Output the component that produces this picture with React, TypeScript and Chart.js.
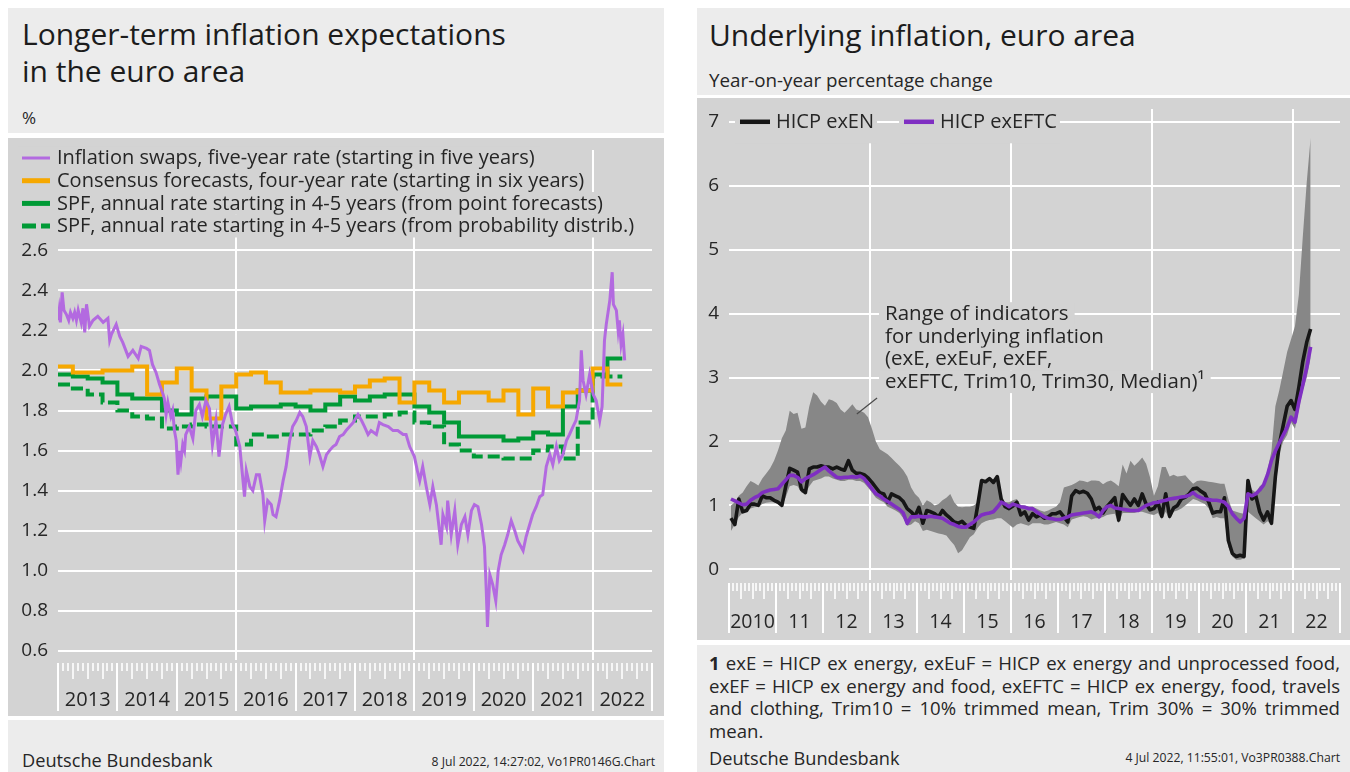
import React, { useEffect, useRef } from 'react';
import { Chart, registerables } from 'chart.js';

Chart.register(...registerables);

const FONT = '"Open Sans", "Noto Sans", sans-serif';
const PANEL_BG = '#d3d3d3';
const HEAD_BG = '#ececec';
const TEXT = '#262626';

// ================= Left chart data =================
const swapYears = [
  2013.00, 2013.02, 2013.04, 2013.07, 2013.10, 2013.14, 2013.18, 2013.21, 2013.25, 2013.28,
  2013.31, 2013.34, 2013.39, 2013.42, 2013.45, 2013.48, 2013.53, 2013.59, 2013.67, 2013.76,
  2013.84, 2013.87, 2013.90, 2013.98, 2014.04, 2014.09, 2014.18, 2014.26, 2014.35, 2014.40,
  2014.49, 2014.54, 2014.59, 2014.65, 2014.71, 2014.77, 2014.79, 2014.82, 2014.85, 2014.90,
  2014.93, 2014.96, 2014.99, 2015.02, 2015.05, 2015.07, 2015.10, 2015.13, 2015.15, 2015.21,
  2015.27, 2015.32, 2015.38, 2015.43, 2015.49, 2015.55, 2015.60, 2015.66, 2015.71, 2015.77,
  2015.82, 2015.88, 2015.94, 2015.99, 2016.06, 2016.14, 2016.17, 2016.23, 2016.28, 2016.34,
  2016.39, 2016.45, 2016.48, 2016.53, 2016.59, 2016.62, 2016.67, 2016.73, 2016.79, 2016.84,
  2016.90, 2016.95, 2017.01, 2017.07, 2017.12, 2017.18, 2017.24, 2017.29, 2017.35, 2017.40,
  2017.46, 2017.52, 2017.57, 2017.63, 2017.68, 2017.74, 2017.80, 2017.85, 2017.91, 2017.97,
  2018.05, 2018.11, 2018.16, 2018.22, 2018.27, 2018.36, 2018.41, 2018.47, 2018.56, 2018.64,
  2018.72, 2018.81, 2018.86, 2018.92, 2019.00, 2019.05, 2019.09, 2019.14, 2019.20, 2019.26,
  2019.31, 2019.37, 2019.45, 2019.48, 2019.54, 2019.56, 2019.62, 2019.68, 2019.73, 2019.79,
  2019.85, 2019.90, 2019.96, 2020.01, 2020.07, 2020.13, 2020.18, 2020.21, 2020.23, 2020.27,
  2020.32, 2020.37, 2020.41, 2020.46, 2020.52, 2020.57, 2020.63, 2020.69, 2020.74, 2020.83,
  2020.88, 2020.94, 2020.99, 2021.05, 2021.11, 2021.16, 2021.19, 2021.22, 2021.28, 2021.33,
  2021.39, 2021.44, 2021.50, 2021.56, 2021.61, 2021.67, 2021.72, 2021.78, 2021.81, 2021.84,
  2021.89, 2021.95, 2022.01, 2022.06, 2022.12, 2022.16, 2022.20, 2022.23, 2022.29, 2022.33,
  2022.35, 2022.40, 2022.43, 2022.45, 2022.48, 2022.51, 2022.54,
];
const swapValues = [
  2.25, 2.30, 2.24, 2.39, 2.30, 2.28, 2.25, 2.29, 2.26, 2.29,
  2.25, 2.30, 2.24, 2.31, 2.19, 2.33, 2.22, 2.25, 2.27, 2.24,
  2.26, 2.15, 2.18, 2.23, 2.17, 2.14, 2.07, 2.10, 2.06, 2.12,
  2.11, 2.10, 2.03, 1.99, 1.93, 1.88, 1.86, 1.78, 1.84, 1.77,
  1.80, 1.70, 1.65, 1.48, 1.60, 1.55, 1.63, 1.60, 1.68, 1.72,
  1.66, 1.80, 1.83, 1.77, 1.85, 1.81, 1.63, 1.75, 1.57, 1.73,
  1.78, 1.82, 1.73, 1.70, 1.62, 1.37, 1.50, 1.42, 1.40, 1.48,
  1.48, 1.38, 1.25, 1.35, 1.33, 1.28, 1.27, 1.35, 1.45, 1.52,
  1.65, 1.72, 1.75, 1.79, 1.77, 1.72, 1.57, 1.65, 1.62, 1.58,
  1.52, 1.58, 1.60, 1.62, 1.63, 1.67, 1.68, 1.70, 1.72, 1.74,
  1.78, 1.75, 1.72, 1.68, 1.70, 1.68, 1.74, 1.73, 1.72, 1.70,
  1.70, 1.68, 1.68, 1.62, 1.57, 1.50, 1.45, 1.52, 1.42, 1.33,
  1.42, 1.33, 1.13, 1.28, 1.22, 1.35, 1.18, 1.30, 1.13, 1.23,
  1.27, 1.18, 1.30, 1.33, 1.32, 1.23, 1.12, 0.90, 0.72, 0.98,
  0.93, 0.85, 1.00, 1.08, 1.13, 1.18, 1.25, 1.20, 1.15, 1.10,
  1.17, 1.23, 1.28, 1.32, 1.37, 1.38, 1.45, 1.52, 1.58, 1.53,
  1.62, 1.55, 1.58, 1.65, 1.68, 1.72, 1.75, 1.85, 2.10, 1.95,
  1.88, 1.98, 1.88, 1.85, 1.75, 1.82, 2.15, 2.23, 2.35, 2.49,
  2.33, 2.30, 2.20, 2.25, 2.13, 2.18, 2.05,
];
// Quarterly values, 2013Q1 ... 2022Q2
const quarterStartYear = 2013;
const consensusQuarterly = [
  2.02, 1.99, 1.99, 2.00, 2.00, 2.02, 1.88, 1.94,
  2.01, 1.90, 1.76, 1.92, 1.98, 1.99, 1.94, 1.89,
  1.89, 1.90, 1.90, 1.89, 1.92, 1.95, 1.96, 1.84,
  1.94, 1.90, 1.84, 1.89, 1.89, 1.85, 1.90, 1.78,
  1.91, 1.82, 1.89, 1.90, 2.01, 1.93,
];
const spfPointQuarterly = [
  1.98, 1.97, 1.96, 1.94, 1.88, 1.86, 1.86, 1.80,
  1.78, 1.86, 1.87, 1.87, 1.81, 1.82, 1.82, 1.83,
  1.82, 1.80, 1.83, 1.87, 1.85, 1.87, 1.88, 1.88,
  1.82, 1.79, 1.74, 1.67, 1.67, 1.67, 1.65, 1.66,
  1.69, 1.68, 1.82, 1.90, 1.98, 2.06,
];
const spfProbQuarterly = [
  1.93, 1.91, 1.88, 1.84, 1.80, 1.77, 1.76, 1.71,
  1.72, 1.73, 1.72, 1.72, 1.63, 1.68, 1.67, 1.68,
  1.68, 1.70, 1.72, 1.75, 1.77, 1.77, 1.78, 1.79,
  1.74, 1.72, 1.63, 1.60, 1.57, 1.57, 1.56, 1.56,
  1.60, 1.62, 1.56, 1.74, 1.97, 1.97,
];
const leftYTicks = [0.6, 0.8, 1.0, 1.2, 1.4, 1.6, 1.8, 2.0, 2.2, 2.4, 2.6];
const leftFirstYear = 2013;
const leftYearLabels = ['2013', '2014', '2015', '2016', '2017', '2018', '2019', '2020', '2021', '2022'];
const leftGridYears = [2016, 2019, 2022];
const leftLegendLabels = [
  'Inflation swaps, five-year rate (starting in five years)',
  'Consensus forecasts, four-year rate (starting in six years)',
  'SPF, annual rate starting in 4-5 years (from point forecasts)',
  'SPF, annual rate starting in 4-5 years (from probability distrib.)',
];

// ================= Right chart data (monthly, Jan 2010 ... May 2022) =================
const rightFirstYear = 2010;
const exENMonthly = [
  0.80, 0.70, 1.10, 0.90, 0.92, 1.02, 1.02, 1.00, 1.15, 1.12, 1.12, 1.08,
  1.05, 1.00, 1.30, 1.58, 1.55, 1.52, 1.25, 1.20, 1.57, 1.60, 1.60, 1.62,
  1.60, 1.60, 1.57, 1.60, 1.57, 1.55, 1.70, 1.55, 1.50, 1.50, 1.48, 1.43,
  1.36, 1.28, 1.20, 1.18, 1.05, 1.18, 1.15, 1.12, 1.06, 0.95, 0.90, 0.83,
  0.97, 0.72, 0.92, 0.90, 0.87, 0.82, 0.92, 0.85, 0.80, 0.74, 0.72, 0.75,
  0.69, 0.66, 0.64, 1.00, 1.39, 1.37, 1.42, 1.36, 1.45, 1.10, 0.98, 0.95,
  0.99, 1.05, 0.85, 0.90, 0.77, 0.87, 0.82, 0.85, 0.80, 0.82, 0.87, 0.87,
  0.90, 0.82, 0.74, 1.15, 1.23, 1.20, 1.22, 1.19, 1.10, 0.93, 0.97, 0.88,
  0.98, 1.05, 1.12, 0.77, 1.17, 1.08, 1.00, 1.10, 1.00, 1.18, 1.02, 0.93,
  0.95, 1.05, 0.83, 1.18, 0.83, 0.96, 1.00, 1.10, 1.13, 1.18, 1.26, 1.27,
  1.22, 1.18, 1.05, 0.88, 0.90, 0.90, 1.12, 0.45, 0.25, 0.20, 0.22, 0.20,
  1.39, 1.10, 1.15, 0.90, 0.77, 0.90, 0.72, 1.45, 1.95, 2.25, 2.55, 2.64,
  2.50, 2.85, 3.25, 3.55, 3.76,
];
const exEFTCMonthly = [
  1.10, 1.07, 1.04, 1.01, 1.02, 1.08, 1.12, 1.15, 1.20, 1.22, 1.24, 1.25,
  1.26, 1.33, 1.40, 1.47, 1.47, 1.44, 1.37, 1.42, 1.45, 1.48, 1.52, 1.56,
  1.60, 1.54, 1.49, 1.44, 1.43, 1.44, 1.44, 1.45, 1.44, 1.46, 1.42, 1.34,
  1.26, 1.18, 1.15, 1.10, 1.06, 1.02, 0.98, 0.94, 0.88, 0.72, 0.82, 0.82,
  0.83, 0.82, 0.82, 0.83, 0.82, 0.81, 0.80, 0.76, 0.72, 0.70, 0.67, 0.66,
  0.66, 0.70, 0.74, 0.80, 0.85, 0.87, 0.88, 0.90, 0.97, 1.05, 1.02, 0.98,
  1.02, 1.00, 0.98, 0.97, 0.95, 0.95, 0.90, 0.86, 0.82, 0.80, 0.79, 0.78,
  0.78, 0.80, 0.82, 0.85, 0.86, 0.87, 0.88, 0.89, 0.90, 0.87, 0.82, 0.92,
  0.98, 1.00, 0.96, 0.95, 0.94, 0.93, 0.92, 0.92, 0.92, 0.96, 1.00, 1.02,
  1.04, 1.05, 1.07, 1.08, 1.10, 1.11, 1.12, 1.13, 1.14, 1.16, 1.20, 1.15,
  1.12, 1.10, 1.09, 1.08, 1.08, 1.07, 1.05, 0.98, 0.87, 0.80, 0.74, 0.80,
  1.18, 1.15, 1.18, 1.24, 1.32, 1.48, 1.70, 1.85, 1.98, 2.10, 2.22, 2.38,
  2.30, 2.62, 2.88, 3.15, 3.48,
];
const rangeLowMonthly = [
  0.60, 0.70, 0.82, 0.88, 0.90, 0.95, 0.97, 0.98, 1.02, 1.04, 1.05, 1.05,
  1.02, 0.98, 1.13, 1.30, 1.32, 1.30, 1.20, 1.18, 1.30, 1.38, 1.40, 1.42,
  1.45, 1.45, 1.42, 1.40, 1.38, 1.38, 1.40, 1.40, 1.38, 1.38, 1.35, 1.28,
  1.20, 1.12, 1.08, 1.05, 0.98, 0.95, 0.92, 0.88, 0.80, 0.68, 0.70, 0.75,
  0.72, 0.60, 0.62, 0.60, 0.58, 0.56, 0.55, 0.53, 0.45, 0.38, 0.25, 0.30,
  0.40, 0.50, 0.55, 0.65, 0.72, 0.75, 0.77, 0.78, 0.80, 0.80, 0.75, 0.70,
  0.65, 0.70, 0.72, 0.70, 0.68, 0.72, 0.72, 0.72, 0.70, 0.70, 0.72, 0.74,
  0.72, 0.70, 0.66, 0.78, 0.80, 0.82, 0.83, 0.82, 0.78, 0.80, 0.80, 0.82,
  0.85, 0.86, 0.87, 0.72, 0.88, 0.88, 0.88, 0.88, 0.90, 0.90, 0.88, 0.86,
  0.85, 0.88, 0.78, 0.90, 0.78, 0.90, 0.92, 0.95, 1.00, 1.05, 1.10, 1.08,
  1.05, 1.02, 0.95, 0.80, 0.82, 0.80, 0.80, 0.35, 0.20, 0.15, 0.15, 0.17,
  0.90, 0.85, 0.80, 0.75, 0.70, 0.75, 0.70, 1.30, 1.80, 2.00, 2.10, 2.30,
  2.20, 2.50, 2.80, 3.00, 3.30,
];
const rangeHighMonthly = [
  1.00, 1.05, 1.15, 1.20, 1.30, 1.38, 1.35, 1.31, 1.42, 1.50, 1.58, 1.70,
  1.86, 2.05, 2.17, 2.48, 2.43, 2.45, 2.20, 2.22, 2.55, 2.77, 2.72, 2.62,
  2.56, 2.66, 2.64, 2.60, 2.50, 2.45, 2.51, 2.58, 2.50, 2.48, 2.45, 2.38,
  2.20, 2.00, 1.88, 1.84, 1.80, 1.74, 1.68, 1.62, 1.55, 1.45, 1.28, 1.18,
  1.12, 1.00, 1.08, 1.05, 1.00, 1.02, 1.08, 1.12, 1.18, 1.05, 0.98, 0.97,
  0.98, 0.98, 1.00, 1.05, 1.39, 1.37, 1.42, 1.36, 1.45, 1.10, 1.05, 1.05,
  1.08, 1.10, 1.00, 1.00, 0.98, 0.98, 0.95, 0.92, 0.90, 0.92, 0.95, 0.98,
  1.05, 1.28, 1.30, 1.32, 1.35, 1.39, 1.38, 1.36, 1.39, 1.39, 1.38, 1.33,
  1.37, 1.39, 1.35, 1.30, 1.64, 1.50, 1.70, 1.62, 1.68, 1.75, 1.65, 1.44,
  1.15, 1.30, 1.60, 1.60, 1.45, 1.48, 1.45, 1.46, 1.47, 1.40, 1.34, 1.38,
  1.39, 1.38, 1.37, 1.36, 1.35, 1.34, 1.34, 1.10, 0.92, 0.90, 0.88, 0.87,
  1.39, 1.25, 1.20, 1.30, 1.34, 1.55, 1.85, 2.55, 2.80, 3.10, 3.40, 3.60,
  3.80, 4.30, 5.20, 6.05, 6.75,
];
const rightYTicks = [0, 1, 2, 3, 4, 5, 6, 7];
const rightYearLabels = ['2010', '11', '12', '13', '14', '15', '16', '17', '18', '19', '20', '21', '22'];
const rightGridYears = [2013, 2016, 2019, 2022];
const rightLegendLabels = ['HICP exEN', 'HICP exEFTC'];
const rangeNoteLines = [
  'Range of indicators',
  'for underlying inflation',
  '(exE, exEuF, exEF,',
  'exEFTC, Trim10, Trim30, Median)\u00b9',
];

// ================= Styles =================
const PURPLE_L = '#b36ae0';
const ORANGE = '#f6a800';
const GREEN = '#009a36';
const BLACK = '#161616';
const PURPLE_R = '#7f2fc2';
const BAND = '#878787';

// Note placement (in data units of the right chart)
const notePlacement = { textX: 2013.32, textY: 4.0, lineHeight: 22.7, leaderFrom: [2013.15, 2.68], leaderTo: [2012.72, 2.43] };

function yearAxisPlugin(id: string, firstYear: number, labels: string[], cfg: any) {
  return {
    id,
    afterDraw(chart: any) {
      const { ctx, chartArea } = chart;
      const xs = chart.scales.x;
      const top = chartArea.bottom + cfg.gap;
      ctx.save();
      ctx.strokeStyle = '#ffffff';
      for (let k = 0; k <= labels.length; k++) {
        for (let m = 0; m < 12; m++) {
          if (k === labels.length && m > 0) break;
          const px = Math.round(xs.getPixelForValue(firstYear + k + m / 12));
          const len = m === 0 ? cfg.year : m % 3 === 0 ? cfg.quarter : cfg.month;
          ctx.lineWidth = m === 0 ? 2 : 1.6;
          ctx.beginPath();
          ctx.moveTo(px, top);
          ctx.lineTo(px, top + len);
          ctx.stroke();
        }
      }
      ctx.fillStyle = TEXT;
      ctx.font = cfg.font;
      ctx.textAlign = 'center';
      ctx.textBaseline = 'middle';
      labels.forEach((lab, k) => {
        ctx.fillText(lab, xs.getPixelForValue(firstYear + k + 0.5), chartArea.bottom + cfg.labelOffset);
      });
      ctx.restore();
    },
  };
}

const leftLegendPlugin = {
  id: 'leftLegend',
  afterDraw(chart: any) {
    const { ctx, chartArea } = chart;
    const styles = [
      { color: PURPLE_L, width: 3, dash: [] as number[] },
      { color: ORANGE, width: 5, dash: [] as number[] },
      { color: GREEN, width: 5, dash: [] as number[] },
      { color: GREEN, width: 5, dash: [14, 5] },
    ];
    ctx.save();
    ctx.font = `20px ${FONT}`;
    ctx.textBaseline = 'middle';
    leftLegendLabels.forEach((text, r) => {
      const cy = chartArea.top + 8 + r * 22.7;
      const tx = chartArea.left - 1;
      const w = ctx.measureText(text).width;
      ctx.fillStyle = PANEL_BG;
      ctx.fillRect(chartArea.left - 40, cy - 11.4, w + 45, 22.8);
      const st = styles[r];
      ctx.strokeStyle = st.color;
      ctx.lineWidth = st.width;
      ctx.setLineDash(st.dash);
      ctx.beginPath();
      ctx.moveTo(chartArea.left - 36, cy);
      ctx.lineTo(chartArea.left - 8, cy);
      ctx.stroke();
      ctx.setLineDash([]);
      ctx.fillStyle = TEXT;
      ctx.fillText(text, tx, cy + 0.5);
    });
    ctx.restore();
  },
};

const rightNotesPlugin = {
  id: 'rightNotes',
  afterDraw(chart: any) {
    const { ctx, chartArea } = chart;
    const xs = chart.scales.x;
    const ys = chart.scales.y;
    ctx.save();
    // legend
    const y7 = ys.getPixelForValue(rightYTicks[rightYTicks.length - 1]);
    const colors = [BLACK, PURPLE_R];
    ctx.font = `20px ${FONT}`;
    ctx.textBaseline = 'middle';
    let x = chartArea.left + 11;
    rightLegendLabels.forEach((text, i) => {
      const w = ctx.measureText(text).width;
      ctx.fillStyle = PANEL_BG;
      ctx.fillRect(x - 5, chartArea.top, 30 + 6 + w + 8, y7 + 21.5 - chartArea.top);
      ctx.strokeStyle = colors[i];
      ctx.lineWidth = 4.5;
      ctx.beginPath();
      ctx.moveTo(x, y7);
      ctx.lineTo(x + 30, y7);
      ctx.stroke();
      ctx.fillStyle = TEXT;
      ctx.fillText(text, x + 36, y7 + 0.5);
      x += 30 + 6 + w + 30;
    });
    // range note
    ctx.font = `20.5px ${FONT}`;
    const tx = xs.getPixelForValue(notePlacement.textX);
    const ty = ys.getPixelForValue(notePlacement.textY);
    rangeNoteLines.forEach((line, k) => {
      const cy = ty + k * notePlacement.lineHeight;
      const w = ctx.measureText(line).width;
      ctx.fillStyle = PANEL_BG;
      ctx.fillRect(tx - 6, cy - 11.4, w + 12, 22.8);
      ctx.fillStyle = TEXT;
      ctx.fillText(line, tx, cy + 0.5);
    });
    ctx.strokeStyle = '#4a4a4a';
    ctx.lineWidth = 1.2;
    ctx.beginPath();
    ctx.moveTo(xs.getPixelForValue(notePlacement.leaderFrom[0]), ys.getPixelForValue(notePlacement.leaderFrom[1]));
    ctx.lineTo(xs.getPixelForValue(notePlacement.leaderTo[0]), ys.getPixelForValue(notePlacement.leaderTo[1]));
    ctx.stroke();
    ctx.restore();
  },
};

function toSteps(vals: number[]) {
  const pts = vals.map((v, i) => ({ x: quarterStartYear + i / 4, y: v }));
  pts.push({ x: quarterStartYear + vals.length / 4, y: vals[vals.length - 1] });
  return pts;
}

function monthly(vals: number[]) {
  return vals.map((v, i) => ({ x: rightFirstYear + (i + 0.5) / 12, y: v }));
}

const fixYWidth = (w: number) => (s: any) => { s.width = w; s.paddingTop = 0; s.paddingBottom = 0; };

function leftConfig(): any {
  return {
    type: 'line',
    data: {
      datasets: [
        { data: swapYears.map((x, i) => ({ x, y: swapValues[i] })), borderColor: PURPLE_L, borderWidth: 3, order: 0 },
        { data: toSteps(consensusQuarterly), borderColor: ORANGE, borderWidth: 4, stepped: 'before', order: 1 },
        { data: toSteps(spfPointQuarterly), borderColor: GREEN, borderWidth: 4, stepped: 'before', order: 2 },
        { data: toSteps(spfProbQuarterly), borderColor: GREEN, borderWidth: 4, borderDash: [12, 5], stepped: 'before', order: 3 },
      ],
    },
    options: {
      responsive: false,
      animation: false,
      events: [],
      elements: { point: { radius: 0 }, line: { tension: 0, fill: false } },
      layout: { padding: { left: 8, right: 12, top: 12, bottom: 0 } },
      plugins: { legend: { display: false }, tooltip: { enabled: false } },
      scales: {
        x: {
          type: 'linear', min: 2013, max: 2023,
          afterBuildTicks: (s: any) => { s.ticks = leftGridYears.map((v) => ({ value: v })); },
          afterFit: (s: any) => { s.height = 56; s.paddingLeft = 0; s.paddingRight = 0; },
          ticks: { display: false },
          grid: { color: '#ffffff', lineWidth: 2, drawTicks: false },
          border: { display: false },
        },
        y: {
          type: 'linear', min: 0.555, max: 3.1,
          afterBuildTicks: (s: any) => { s.ticks = leftYTicks.map((v) => ({ value: v })); },
          afterFit: fixYWidth(42),
          ticks: { padding: 10, color: TEXT, font: { size: 19, family: FONT, lineHeight: 1.1 }, callback: (v: any) => Number(v).toFixed(1) },
          grid: { color: '#ffffff', lineWidth: 2, drawTicks: false },
          border: { display: false },
        },
      },
    },
    plugins: [
      leftLegendPlugin,
      yearAxisPlugin('leftYears', leftFirstYear, leftYearLabels, { gap: 3, month: 8, quarter: 16, year: 48, labelOffset: 40, font: `20px ${FONT}` }),
    ],
  };
}

function rightConfig(): any {
  return {
    type: 'line',
    data: {
      datasets: [
        { data: monthly(rangeLowMonthly), borderWidth: 0, borderColor: 'rgba(0,0,0,0)', fill: false, order: 3 },
        { data: monthly(rangeHighMonthly), borderWidth: 0, borderColor: 'rgba(0,0,0,0)', backgroundColor: BAND, fill: '-1', order: 2 },
        { data: monthly(exENMonthly), borderColor: BLACK, borderWidth: 3.6, order: 1 },
        { data: monthly(exEFTCMonthly), borderColor: PURPLE_R, borderWidth: 3.6, order: 0 },
      ],
    },
    options: {
      responsive: false,
      animation: false,
      events: [],
      elements: { point: { radius: 0 }, line: { tension: 0, borderJoinStyle: 'round' } },
      layout: { padding: { left: 0, right: 10, top: 11, bottom: 0 } },
      plugins: { legend: { display: false }, tooltip: { enabled: false } },
      scales: {
        x: {
          type: 'linear', min: 2010, max: 2023,
          afterBuildTicks: (s: any) => { s.ticks = rightGridYears.map((v) => ({ value: v })); },
          afterFit: (s: any) => { s.height = 60; s.paddingLeft = 0; s.paddingRight = 0; },
          ticks: { display: false },
          grid: { color: '#ffffff', lineWidth: 2, drawTicks: false },
          border: { display: false },
        },
        y: {
          type: 'linear', min: -0.167, max: 7.2,
          afterBuildTicks: (s: any) => { s.ticks = rightYTicks.map((v) => ({ value: v })); },
          afterFit: fixYWidth(32),
          ticks: { padding: 10, color: TEXT, font: { size: 19, family: FONT, lineHeight: 1.1 } },
          grid: { color: '#ffffff', lineWidth: 2, drawTicks: false },
          border: { display: false },
        },
      },
    },
    plugins: [
      rightNotesPlugin,
      yearAxisPlugin('rightYears', rightFirstYear, rightYearLabels, { gap: 3, month: 8, quarter: 16, year: 50, labelOffset: 42, font: `19.5px ${FONT}` }),
    ],
  };
}

const abs = (l: number, t: number, w: number, h: number, extra: any = {}) => ({ position: 'absolute' as const, left: l, top: t, width: w, height: h, ...extra });

export default function App() {
  const leftRef = useRef<HTMLCanvasElement>(null);
  const rightRef = useRef<HTMLCanvasElement>(null);

  useEffect(() => {
    Chart.defaults.font.family = FONT;
    const lc = new Chart(leftRef.current as HTMLCanvasElement, leftConfig());
    const rc = new Chart(rightRef.current as HTMLCanvasElement, rightConfig());
    return () => { lc.destroy(); rc.destroy(); };
  }, []);

  const justify = { textAlign: 'justify' as const, textAlignLast: 'justify' as const, whiteSpace: 'nowrap' as const };

  return (
    <div style={{ position: 'absolute', left: 0, top: 0, width: 1350, height: 772, background: '#ffffff', fontFamily: FONT, color: TEXT, overflow: 'hidden' }}>
      {/* Left panel */}
      <div style={abs(8, 8, 656, 125, { background: HEAD_BG })}>
        <div style={{ position: 'absolute', left: 14, top: 7, fontSize: 30, lineHeight: '37px', color: '#1c1c1c', whiteSpace: 'nowrap' }}>
          Longer-term inflation expectations<br />in the euro area
        </div>
        <div style={{ position: 'absolute', left: 14, top: 99, fontSize: 17, lineHeight: '22px' }}>%</div>
      </div>
      <div style={abs(8, 138, 656, 578, { background: PANEL_BG })}>
        <canvas ref={leftRef} width={656} height={578} style={{ display: 'block' }} />
      </div>
      <div style={abs(8, 720, 656, 52, { background: HEAD_BG })}>
        <div style={{ position: 'absolute', left: 14, top: 29, fontSize: 18.2, lineHeight: '22px' }}>Deutsche Bundesbank</div>
        <div style={{ position: 'absolute', right: 9, top: 35, fontSize: 12.2, lineHeight: '14px', whiteSpace: 'nowrap' }}>8 Jul 2022, 14:27:02, Vo1PR0146G.Chart</div>
      </div>

      {/* Right panel */}
      <div style={abs(697, 8, 653, 87, { background: HEAD_BG })}>
        <div style={{ position: 'absolute', left: 12, top: 7.5, fontSize: 30, lineHeight: '37px', color: '#1c1c1c', whiteSpace: 'nowrap' }}>Underlying inflation, euro area</div>
        <div style={{ position: 'absolute', left: 12, top: 61, fontSize: 18.8, lineHeight: '22px' }}>Year-on-year percentage change</div>
      </div>
      <div style={abs(697, 98, 653, 542, { background: PANEL_BG })}>
        <canvas ref={rightRef} width={653} height={542} style={{ display: 'block' }} />
      </div>
      <div style={abs(697, 645, 653, 127, { background: HEAD_BG })}>
        <div style={{ position: 'absolute', left: 12, top: 7, width: 631, fontSize: 18.6, lineHeight: '22.7px' }}>
          <div style={justify}><b>1</b> exE = HICP ex energy, exEuF = HICP ex energy and unprocessed food,</div>
          <div style={justify}>exEF = HICP ex energy and food, exEFTC = HICP ex energy, food, travels</div>
          <div style={justify}>and clothing, Trim10 = 10% trimmed mean, Trim 30% = 30% trimmed</div>
          <div>mean.</div>
        </div>
        <div style={{ position: 'absolute', left: 12, top: 102, fontSize: 18.2, lineHeight: '22px' }}>Deutsche Bundesbank</div>
        <div style={{ position: 'absolute', right: 10, top: 106, fontSize: 12.2, lineHeight: '14px', whiteSpace: 'nowrap' }}>4 Jul 2022, 11:55:01, Vo3PR0388.Chart</div>
      </div>
    </div>
  );
}
